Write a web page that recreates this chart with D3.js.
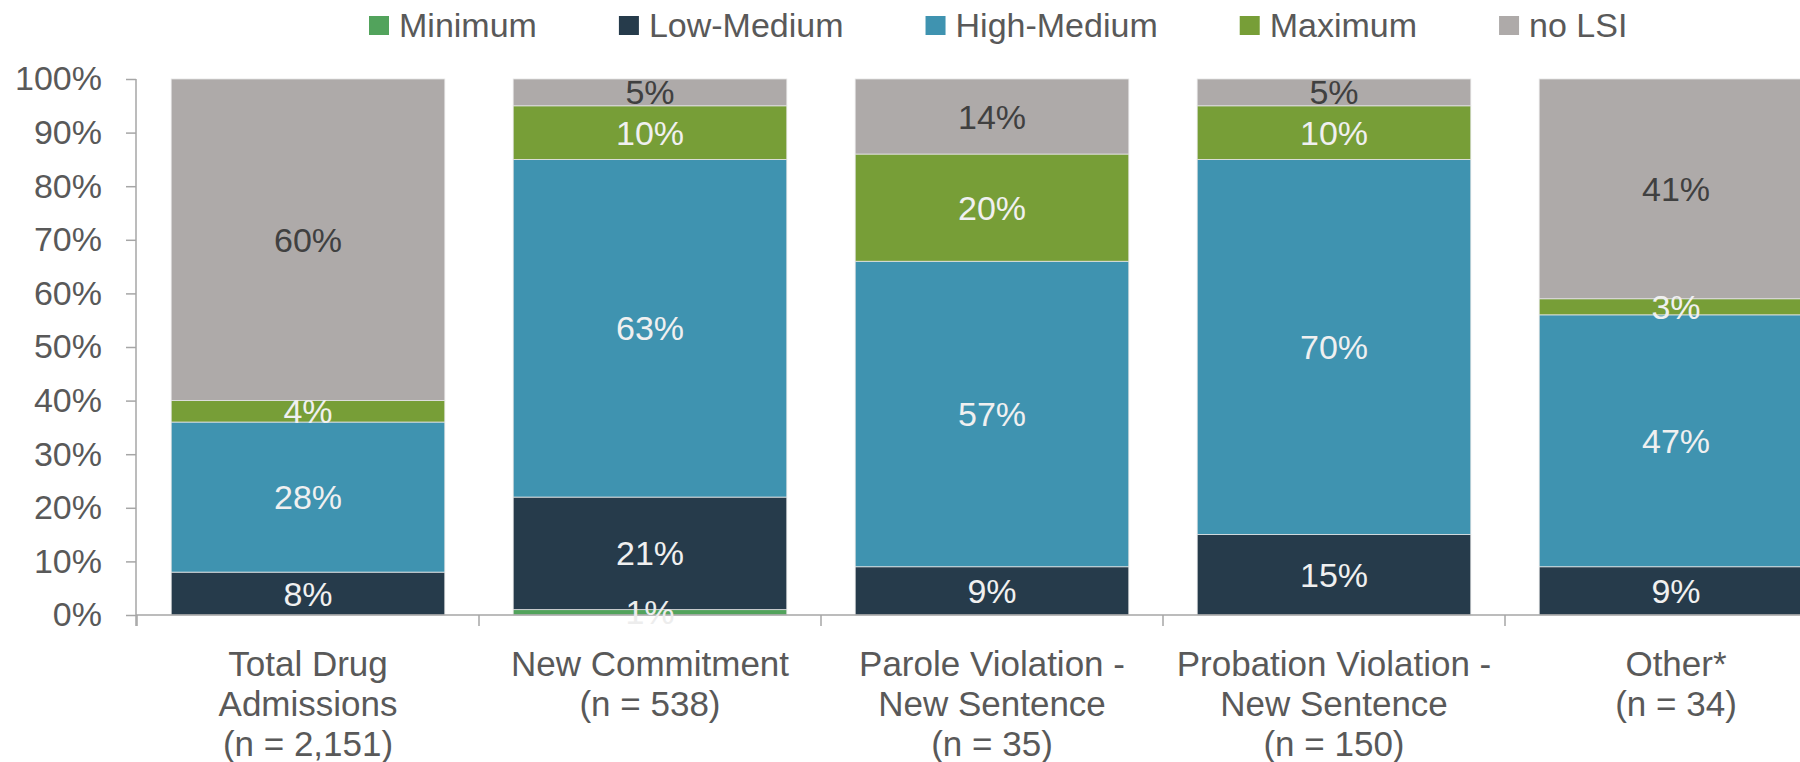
<!DOCTYPE html>
<html>
<head>
<meta charset="utf-8">
<script src="https://cdn.jsdelivr.net/npm/d3@7"></script>
<style>
  html, body { margin: 0; padding: 0; background: #ffffff; }
  svg { display: block; font-family: "Liberation Sans", Arial, sans-serif; }
</style>
</head>
<body>
<svg id="chart" width="1800" height="762"></svg>
<script>
// ---- data ----
const categories = ["Total Drug", "New Commitment", "Parole Violation", "Probation Violation", "Other"];
const categoryLabels = [
  ["Total Drug", "Admissions", "(n = 2,151)"],
  ["New Commitment", "(n = 538)"],
  ["Parole Violation -", "New Sentence", "(n = 35)"],
  ["Probation Violation -", "New Sentence", "(n = 150)"],
  ["Other*", "(n = 34)"]
];
const seriesNames = ["Minimum", "Low-Medium", "High-Medium", "Maximum", "no LSI"];
const minimum    = [0, 1, 0, 0, 0];
const lowMedium  = [8, 21, 9, 15, 9];
const highMedium = [28, 63, 57, 70, 47];
const maximum    = [4, 10, 20, 10, 3];
const noLSI      = [60, 5, 14, 5, 41];
const yTicks = [0, 10, 20, 30, 40, 50, 60, 70, 80, 90, 100];

const seriesValues = [minimum, lowMedium, highMedium, maximum, noLSI];
const colors = ["#52A35C", "#263B4B", "#3F93B0", "#779E37", "#AEAAA9"];
const labelColors = ["#EDEDED", "#F0F0F0", "#F0F0F0", "#F0F0F0", "#404040"];

const rows = categories.map((c, i) => {
  const r = { cat: c };
  seriesNames.forEach((s, j) => r[s] = seriesValues[j][i]);
  return r;
});

const svg = d3.select("#chart");
const x0 = 137, step = 342;
const x = d3.scaleBand().domain(categories)
  .range([x0, x0 + step * categories.length])
  .paddingInner(0.2).paddingOuter(0.1);
const y = d3.scaleLinear().domain([0, 100]).range([615, 79]);

const stack = d3.stack().keys(seriesNames);
const stacked = stack(rows);

const axisColor = "#A6A6A6";
const textColor = "#595959";

// bars
const layers = svg.append("g").selectAll("g").data(stacked).join("g")
  .attr("fill", (d, i) => colors[i]);
layers.selectAll("rect").data(d => d).join("rect")
  .attr("x", d => x(d.data.cat))
  .attr("width", x.bandwidth())
  .attr("y", d => y(d[1]))
  .attr("height", d => y(d[0]) - y(d[1]))
  .attr("stroke", "#E4E4E4")
  .attr("stroke-width", 0.8);

// axes
const yAxis = d3.axisLeft(y).tickValues(yTicks).tickFormat(d => d + "%")
  .tickSize(10).tickPadding(24).tickSizeOuter(0);
const gy = svg.append("g").attr("transform", `translate(${x0 - 1},0)`).call(yAxis);
gy.select(".domain").remove();
gy.selectAll(".tick line").attr("stroke", axisColor).attr("stroke-width", 1.5);
gy.selectAll(".tick text").attr("fill", textColor).attr("font-size", 34)
  .attr("font-family", "'Liberation Sans', Arial, sans-serif");
svg.append("line").attr("x1", x0 - 1).attr("x2", x0 - 1)
  .attr("y1", y(100)).attr("y2", y(0) + 11)
  .attr("stroke", axisColor).attr("stroke-width", 1.5);

const xAxis = d3.axisBottom(x).tickSize(0).tickSizeOuter(0).tickFormat("");
const gx = svg.append("g").attr("transform", `translate(0,${y(0)})`).call(xAxis);
gx.select(".domain").remove();
svg.append("line").attr("x1", x0 - 1).attr("x2", 1800)
  .attr("y1", y(0)).attr("y2", y(0))
  .attr("stroke", axisColor).attr("stroke-width", 1.5);
// category boundary ticks
const bounds = d3.range(categories.length + 1).map(i => x0 + i * x.step());
svg.append("g").selectAll("line").data(bounds).join("line")
  .attr("x1", d => d).attr("x2", d => d)
  .attr("y1", y(0)).attr("y2", y(0) + 11)
  .attr("stroke", axisColor).attr("stroke-width", 1.5);

// category labels
gx.selectAll(".tick").each(function(d, i) {
  const t = d3.select(this).append("text")
    .attr("fill", textColor).attr("font-size", 35).attr("text-anchor", "middle")
    .attr("x", x.bandwidth() / 2);
  categoryLabels[i].forEach((line, k) => {
    t.append("tspan").attr("x", 0).attr("y", 61 + k * 40).text(line);
  });
});

// value labels
stacked.forEach((layer, j) => {
  svg.append("g").selectAll("text").data(layer.filter(d => d[1] - d[0] > 0)).join("text")
    .attr("x", d => x(d.data.cat) + x.bandwidth() / 2)
    .attr("y", d => y((d[0] + d[1]) / 2) + 12)
    .attr("text-anchor", "middle")
    .attr("font-size", 34)
    .attr("fill", labelColors[j])
    .text(d => (d[1] - d[0]) + "%");
});

// legend
const legend = svg.append("g");
let lx = 369;
seriesNames.forEach((s, i) => {
  const g = legend.append("g").attr("transform", `translate(${lx},0)`);
  g.append("rect").attr("x", 0).attr("y", 16).attr("width", 20).attr("height", 19).attr("fill", colors[i]);
  const t = g.append("text").attr("x", 30).attr("y", 37).attr("font-size", 34)
    .attr("fill", textColor).text(s);
  lx += 30 + t.node().getComputedTextLength() + 82;
});
</script>
</body>
</html>
